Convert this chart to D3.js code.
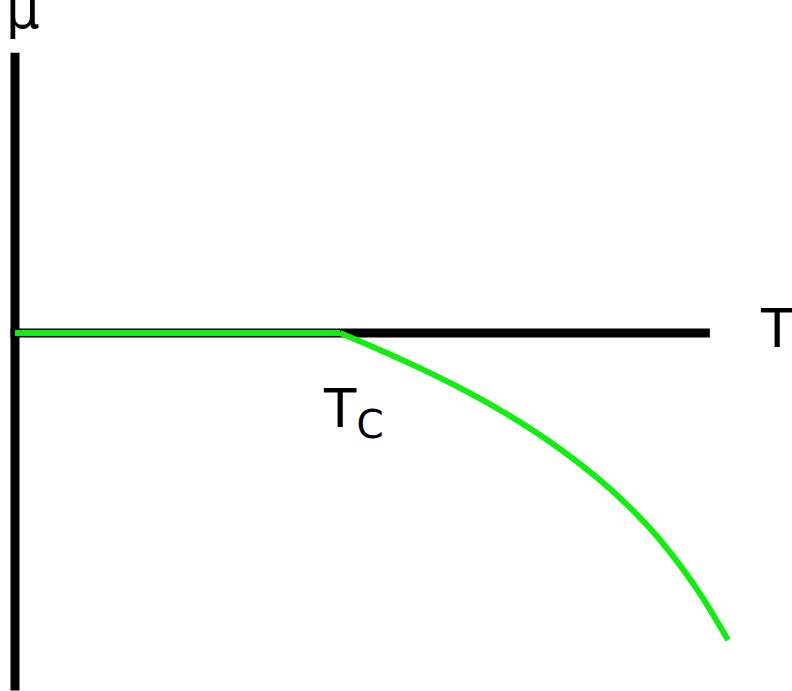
<!DOCTYPE html>
<html>
<head>
<meta charset="utf-8">
<script src="https://cdn.jsdelivr.net/npm/d3@7/dist/d3.min.js"></script>
<style>
  html, body { margin: 0; padding: 0; background: #fff; }
  svg { display: block; }
  text { font-family: "DejaVu Sans", Verdana, sans-serif; fill: #000; }
</style>
</head>
<body>
<svg id="chart" width="792" height="691"></svg>
<script>
// Chemical potential μ versus temperature T (reduced units, T / Tc)
const axisT = [0, 2.138];          // extent of the T axis
const axisMu = [-1.1, 0.862];      // extent of the μ axis
const Tc = 1;

// μ = 0 below the critical temperature
const flatT  = [0, Tc];
const flatMu = [0, 0];

// μ falling off above Tc
const dropT  = [1.000, 1.123, 1.246, 1.369, 1.492, 1.615, 1.738, 1.862, 1.985, 2.108, 2.194];
const dropMu = [0.000, -0.052, -0.108, -0.169, -0.237, -0.314, -0.403, -0.508, -0.637, -0.803, -0.945];

const labels = { mu: "μ", T: "T", Tc: "T", TcSub: "C" };

const svg = d3.select("#chart");

const x = d3.scaleLinear().domain([0, 1]).range([15, 340]);
const y = d3.scaleLinear().domain([0, 1]).range([333, 8]);

// axes
svg.append("line")
  .attr("x1", x(0)).attr("x2", x(0))
  .attr("y1", y(axisMu[1])).attr("y2", y(axisMu[0]))
  .attr("stroke", "#000").attr("stroke-width", 9);

svg.append("line")
  .attr("x1", x(axisT[0]) - 4.5).attr("x2", x(axisT[1]))
  .attr("y1", y(0)).attr("y2", y(0))
  .attr("stroke", "#000").attr("stroke-width", 9);

// μ(T) curve
const green = "#14ec14";
const lineLinear = d3.line().x(d => x(d[0])).y(d => y(d[1]));
const lineSmooth = d3.line().x(d => x(d[0])).y(d => y(d[1])).curve(d3.curveMonotoneX);

svg.append("path")
  .datum(flatT.map((t, i) => [t, flatMu[i]]))
  .attr("d", lineLinear)
  .attr("fill", "none").attr("stroke", green).attr("stroke-width", 6);

svg.append("path")
  .datum(dropT.map((t, i) => [t, dropMu[i]]))
  .attr("d", lineSmooth)
  .attr("fill", "none").attr("stroke", green).attr("stroke-width", 6)
  .attr("stroke-linejoin", "round");

// labels
svg.append("text")
  .attr("x", 6).attr("y", 28)
  .attr("font-size", 53)
  .text(labels.mu);

svg.append("text")
  .attr("x", 761).attr("y", 347)
  .attr("font-size", 53)
  .text(labels.T);

const tc = svg.append("text")
  .attr("x", 324).attr("y", 427)
  .attr("font-size", 53);
tc.append("tspan").text(labels.Tc);
tc.append("tspan").attr("dy", 11).attr("font-size", 39).text(labels.TcSub);
</script>
</body>
</html>
